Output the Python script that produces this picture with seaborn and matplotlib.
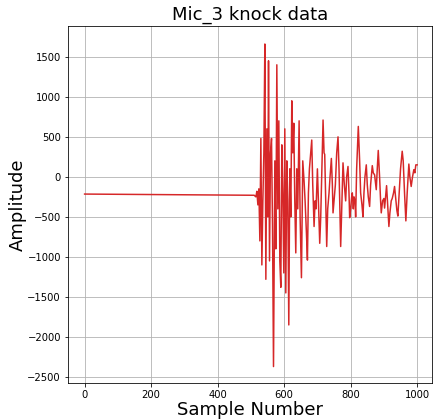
import matplotlib
matplotlib.use("Agg")
import matplotlib.pyplot as plt
import seaborn as sns
import pandas as pd

# Sample numbers and amplitudes
sample_number = [0, 100, 200, 300, 400, 500, 510, 515, 518, 521, 524, 527, 530, 533, 536, 539,
                 542, 545, 548, 551, 553, 556, 559, 562, 565, 568, 572, 575, 578, 581, 584, 587,
                 590, 593, 596, 599, 602, 605, 608, 611, 614, 617, 620, 623, 626, 629, 632, 635,
                 638, 641, 645, 648, 652, 656, 660, 663, 667, 670, 673, 676, 680, 683, 686, 690,
                 693, 696, 700, 703, 707, 710, 714, 717, 720, 722, 725, 728, 731, 735, 738, 742,
                 745, 747, 750, 754, 758, 762, 765, 768, 770, 773, 777, 781, 785, 788, 792, 795,
                 797, 800, 803, 805, 808, 810, 813, 815, 818, 823, 827, 830, 834, 837, 840, 843,
                 847, 850, 853, 857, 860, 865, 868, 872, 877, 880, 883, 887, 890, 892, 896, 900,
                 902, 905, 908, 912, 915, 918, 922, 925, 929, 932, 936, 939, 942, 946, 950, 955,
                 958, 962, 966, 970, 975, 978, 982, 986, 990, 993, 996, 1000]
amplitude = [-215, -218, -220, -223, -226, -229, -230, -250, -180, -350, -150, -800, 480, -1100, -300, 300,
             1660, -1280, 600, -500, 1450, -1050, 300, 480, -600, -2370, 200, -900, 1400, -400, 700, -1050,
             -1380, 400, -200, -1200, 600, -1450, 200, -300, -1850, 100, -500, 950, 300, 670, -300, -950,
             100, -400, 700, -500, -1260, 200, -60, -300, -700, -1040, -200, 100, 300, 460, -100, -620,
             -300, -400, 100, -300, -830, -500, 200, 710, 300, 280, -300, -870, -400, -200, 0, 230,
             -100, -450, -300, -100, 300, 500, 100, -500, -870, -400, 175, -100, -300, 0, 130, -200,
             -510, -400, -250, -200, -400, -250, -300, -500, 100, 630, 200, -200, -350, -500, -200, 0,
             150, -100, -250, -370, -100, 140, 50, 25, -160, 100, 330, 0, -300, -450, -300, -270,
             -390, -250, -110, -400, -620, -450, -300, -270, -200, -120, -300, -420, -490, -200, 100, 320,
             200, -200, -550, -200, 160, 0, -120, 0, 90, 50, 150, 150]

title = "Mic_3 knock data"
x_label = "Sample Number"
y_label = "Amplitude"

df = pd.DataFrame({"x": sample_number, "y": amplitude})

fig, ax = plt.subplots(figsize=(433 / 72, 419 / 72), dpi=72)
fig.subplots_adjust(left=0.157, right=0.998, top=0.938, bottom=0.086)

sns.lineplot(data=df, x="x", y="y", color="#d62728", linewidth=1.5, ax=ax)
ax.grid(True, color="#b0b0b0", linewidth=0.8)
ax.set_axisbelow(True)
ax.set_title(title, fontsize=18)
ax.set_xlabel(x_label, fontsize=18, labelpad=1)
ax.set_ylabel(y_label, fontsize=18, labelpad=0)
ax.tick_params(labelsize=10)
ax.set_xlim(-50, 1045)
ax.set_ylim(-2575, 1885)
ax.set_xticks([0, 200, 400, 600, 800, 1000])
ax.set_yticks(list(range(-2500, 2000, 500)))

fig.savefig("out.png", dpi=72)
